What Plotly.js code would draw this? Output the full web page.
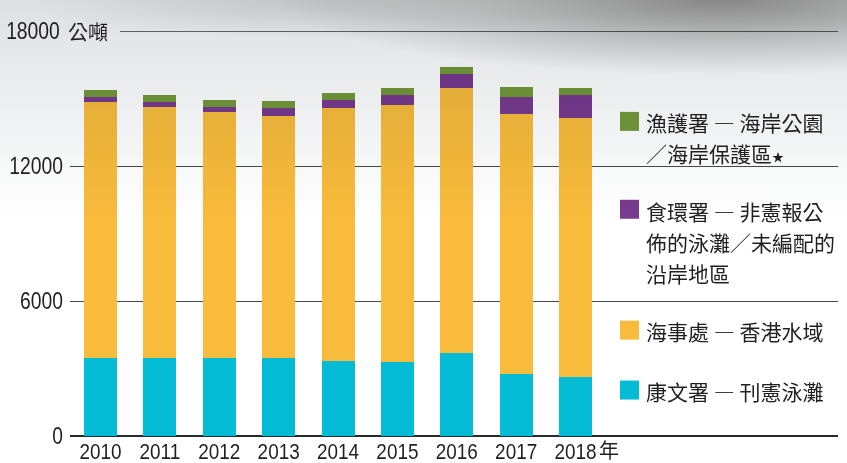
<!DOCTYPE html>
<html>
<head>
<meta charset="utf-8">
<script src="https://cdn.plot.ly/plotly-3.0.1.min.js"></script>
<style>
  html, body { margin:0; padding:0; background:#ffffff; }
  #wrap { position:relative; width:847px; height:463px; overflow:hidden; background:#ffffff; }
  #chart { position:absolute; left:0; top:0; width:847px; height:463px; }
  #shade { position:absolute; left:0; top:0; width:847px; height:463px; pointer-events:none;
    mix-blend-mode:multiply;
    background:
      radial-gradient(ellipse 440px 75px at 720px 0px, rgba(125,125,125,0.9) 0%, rgba(160,160,160,0.55) 55%, rgba(255,255,255,0) 100%),
      radial-gradient(ellipse 300px 40px at 330px 0px, rgba(170,170,170,0.55) 0%, rgba(255,255,255,0) 100%),
      linear-gradient(to bottom, #dddfe1 0px, #e4e6e8 40px, #eceef0 100px, #f6f7f7 160px, #ffffff 220px, #ffffff 463px);
  }
</style>
</head>
<body>
<div id="wrap">
  <div id="chart"></div>
  <div id="shade"></div>
</div>
<script>
// ---- data ----
const years = ['2010','2011','2012','2013','2014','2015','2016','2017','2018'];
const lcsd  = [3480, 3480, 3480, 3480, 3350, 3310, 3710, 2770, 2640];          // 康文署 — 刊憲泳灘
const marine = [11360, 11140, 10920, 10740, 11230, 11400, 11760, 11540, 11500]; // 海事處 — 香港水域
const fehd  = [220, 220, 220, 360, 360, 440, 620, 750, 1020];                  // 食環署
const afcd  = [310, 310, 310, 310, 310, 310, 310, 440, 310];                   // 漁護署
const yTicks = [0, 6000, 12000];
const yTopLabel = '18000';
const unitLabel = '公噸';
const yearSuffix = '年';
const seriesNames = ['康文署 ― 刊憲泳灘', '海事處 ― 香港水域', '食環署 ― 非憲報公佈的泳灘／未編配的沿岸地區', '漁護署 ― 海岸公園／海岸保護區*'];
const legendLines = [
  ['漁護署 ― 海岸公園', '／海岸保護區<span style="font-size:12px">★</span>'],
  ['食環署 ― 非憲報公', '佈的泳灘／未編配的', '沿岸地區'],
  ['海事處 ― 香港水域'],
  ['康文署 ― 刊憲泳灘']
];
const colors = ['#04bbd6', '#f8bb3b', '#773a8d', '#73993a'];

const NUM = 'Liberation Sans, Arial, sans-serif';
const CJK = 'Noto Sans CJK TC, Noto Sans CJK SC, sans-serif';
const TXT = '#231f20';

const W = 847, H = 463;
const L = 70, R = 9, T = 31, B = 26.5;
const pw = W - L - R, ph = H - T - B;

const vals = [lcsd, marine, fehd, afcd];
const traces = vals.map((v, i) => ({
  type: 'bar', x: years, y: v, name: seriesNames[i],
  marker: { color: colors[i], line: { width: 0 } },
  width: 0.556, hoverinfo: 'x+y+name'
}));

const legendRows = [
  { sq: 112, lines: [122, 153], color: colors[3], text: legendLines[0] },
  { sq: 200, lines: [211, 242, 273], color: colors[2], text: legendLines[1] },
  { sq: 321, lines: [331], color: colors[1], text: legendLines[2] },
  { sq: 381, lines: [391], color: colors[0], text: legendLines[3] }
];
const px2x = (px) => (px - L) / pw;
const px2y = (py) => 1 - (py - T) / ph;

const shapes = [];
const annotations = [];
legendRows.forEach(r => {
  shapes.push({ type: 'rect', xref: 'paper', yref: 'paper',
    x0: px2x(620), x1: px2x(639), y0: px2y(r.sq + 19), y1: px2y(r.sq),
    fillcolor: r.color, line: { width: 0 } });
  r.lines.forEach((ly, j) => {
    annotations.push({ xref: 'paper', yref: 'paper', x: px2x(644), y: px2y(ly),
      xanchor: 'left', yanchor: 'middle', showarrow: false,
      text: r.text[j], font: { family: CJK, size: 21, color: TXT } });
  });
});
// top gridline (partial) with label
shapes.push({ type: 'line', xref: 'paper', yref: 'y', x0: px2x(120), x1: 1, y0: 18000, y1: 18000,
  line: { color: '#3a3a3a', width: 1.3 } });
annotations.push({ xref: 'paper', yref: 'y', x: px2x(67), y: 18000, xanchor: 'right', yanchor: 'middle',
  showarrow: false, text: yTopLabel, font: { family: NUM, size: 23, color: TXT } });
annotations.push({ xref: 'paper', yref: 'y', x: px2x(66), y: 18000, xanchor: 'left', yanchor: 'middle',
  showarrow: false, text: unitLabel, font: { family: CJK, size: 20, color: TXT } });
// 年 suffix after the last year tick
annotations.push({ xref: 'paper', yref: 'paper', x: px2x(598), y: px2y(450), xanchor: 'left', yanchor: 'middle',
  showarrow: false, borderpad: 0, text: yearSuffix, font: { family: CJK, size: 20, color: TXT } });

const layout = {
  width: W, height: H,
  margin: { l: L, r: R, t: T, b: B, pad: 0 },
  paper_bgcolor: 'rgba(0,0,0,0)', plot_bgcolor: 'rgba(0,0,0,0)',
  barmode: 'stack',
  showlegend: false,
  xaxis: { type: 'category', range: [-0.514, 12.42], showgrid: false, zeroline: false,
    showline: false, ticks: '', tickfont: { family: NUM, size: 22, color: TXT }, fixedrange: true },
  yaxis: { range: [0, 18000], tickvals: yTicks, ticktext: yTicks.map(String),
    showgrid: true, gridcolor: '#4a4a4a', gridwidth: 1, zeroline: true, zerolinecolor: '#2a2a2a', zerolinewidth: 1.5,
    showline: false, ticks: '', tickfont: { family: NUM, size: 23, color: TXT }, ticklabelstandoff: 6, fixedrange: true },
  shapes: shapes, annotations: annotations
};

function condenseEl(t, factor) {
  try {
    const w = t.getComputedTextLength();
    if (w > 0) {
      t.setAttribute('textLength', (w * factor).toFixed(1));
      t.setAttribute('lengthAdjust', 'spacingAndGlyphs');
    }
  } catch (e) {}
}

Plotly.newPlot('chart', traces, layout, { displayModeBar: false, staticPlot: true }).then(gd => {
  gd.querySelectorAll('.xtick text').forEach(t => condenseEl(t, 0.86));
  gd.querySelectorAll('.ytick text').forEach(t => condenseEl(t, 0.84));
  gd.querySelectorAll('.annotation-text').forEach(t => {
    if (/^\d+$/.test(t.textContent)) condenseEl(t, 0.84);
  });
});
</script>
</body>
</html>
